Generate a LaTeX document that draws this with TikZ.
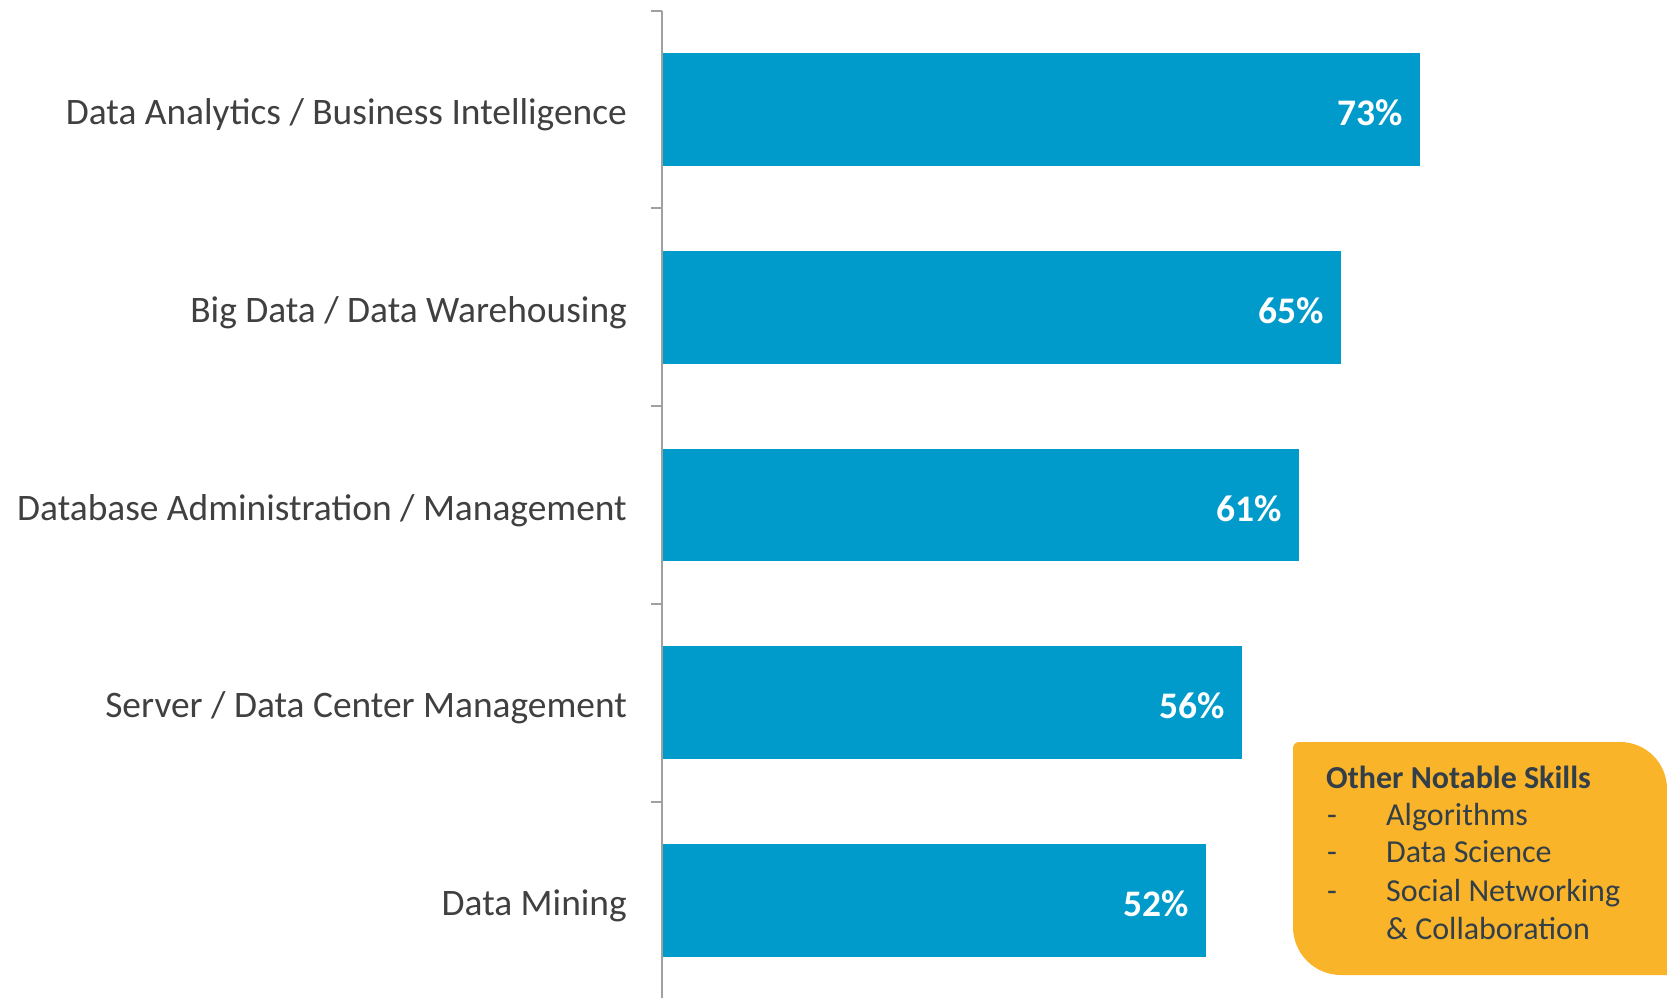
\documentclass[tikz,border=0pt]{standalone}
\usepackage{fontspec}
\setmainfont{Carlito}
\usetikzlibrary{positioning}
\definecolor{barblue}{HTML}{009BCB}
\definecolor{skillorange}{HTML}{F9B42A}
\definecolor{labelgray}{HTML}{404040}
\definecolor{boxtext}{HTML}{333F48}
\definecolor{axisgray}{HTML}{A0A0A0}

\begin{document}
\begin{tikzpicture}[x=1pt, y=-1pt,
  bar/.style={fill=barblue, draw=none, inner sep=0pt, anchor=west, minimum height=112.6pt},
  catlabel/.style={anchor=base east, inner sep=0pt, text=labelgray, font=\fontsize{37.4}{44}\selectfont},
  pctlabel/.style={anchor=base east, inner sep=0pt, text=white, font=\fontsize{37.5}{44}\selectfont\bfseries},
  skilltext/.style={anchor=base west, inner sep=0pt, text=boxtext, font=\fontsize{32}{38}\selectfont},
  axisline/.style={draw=axisgray, line width=2pt}]
\useasboundingbox (0,0) rectangle (1667,998);

% bars
\node[bar, minimum width=758pt] (bar1) at (662,109.5) {};
\node[pctlabel] (pct1) at ([xshift=-17pt, yshift=-16pt]bar1.east) {73\%};
\node[catlabel] (cat1) at (627,124.5) {Data Analytics / Business Intelligence};

\node[bar, minimum width=679pt] (bar2) at (662,307.2) {};
\node[pctlabel] (pct2) at ([xshift=-17pt, yshift=-16pt]bar2.east) {65\%};
\node[catlabel] (cat2) at (627,322.2) {Big Data / Data Warehousing};

\node[bar, minimum width=637pt] (bar3) at (662,505) {};
\node[pctlabel] (pct3) at ([xshift=-17pt, yshift=-16pt]bar3.east) {61\%};
\node[catlabel] (cat3) at (627,520) {Database Administration / Management};

\node[bar, minimum width=580pt] (bar4) at (662,702.7) {};
\node[pctlabel] (pct4) at ([xshift=-17pt, yshift=-16pt]bar4.east) {56\%};
\node[catlabel] (cat4) at (627,717.7) {Server / Data Center Management};

\node[bar, minimum width=544pt] (bar5) at (662,900.5) {};
\node[pctlabel] (pct5) at ([xshift=-17pt, yshift=-16pt]bar5.east) {52\%};
\node[catlabel] (cat5) at (627,915.5) {Data Mining};

% axis and ticks
\draw[axisline] (662,10.6) -- (662,998);
\draw[axisline] (651,10.6) -- (662,10.6);
\draw[axisline] (651,208.4) -- (662,208.4);
\draw[axisline] (651,406.1) -- (662,406.1);
\draw[axisline] (651,603.9) -- (662,603.9);
\draw[axisline] (651,801.6) -- (662,801.6);

% skills box
\fill[skillorange] (1293,748) .. controls (1293,744.7) and (1295.7,742) .. (1299,742)
  -- (1620,742) .. controls (1646,742) and (1667,763) .. (1667,789)
  -- (1667,975) -- (1341,975) .. controls (1314.5,975) and (1293,953.5) .. (1293,927) -- cycle;

\node[skilltext, font=\fontsize{32}{38}\selectfont\bfseries] (title) at (1326,788.5) {Other Notable Skills};
\node[skilltext] (dash1) at (1327,825) {-};
\node[skilltext] (item1) at (1386,825) {Algorithms};
\node[skilltext] (dash2) at (1327,862) {-};
\node[skilltext] (item2) at (1386,862) {Data Science};
\node[skilltext] (dash3) at (1327,901.7) {-};
\node[skilltext] (item3) at (1386,901.7) {Social Networking};
\node[skilltext] (item4) at (1386,939.3) {\& Collaboration};
\end{tikzpicture}
\end{document}
